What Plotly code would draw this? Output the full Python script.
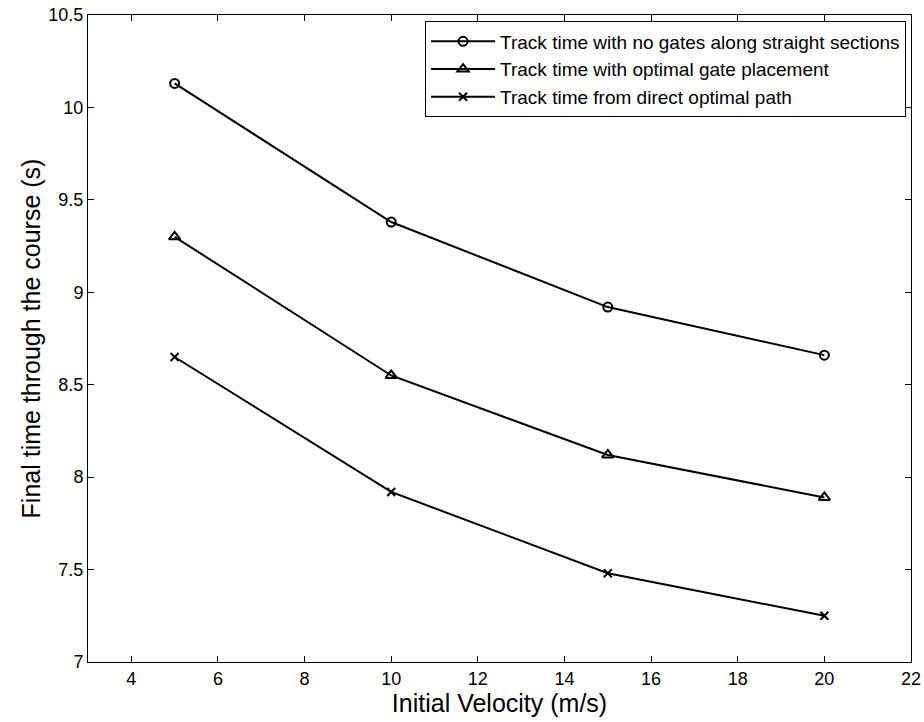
import plotly.graph_objects as go

velocity = [5, 10, 15, 20]
no_gates = [10.13, 9.38, 8.92, 8.66]
optimal_gates = [9.30, 8.55, 8.12, 7.89]
direct_path = [8.65, 7.92, 7.48, 7.25]

names = [
    "Track time with no gates along straight sections",
    "Track time with optimal gate placement",
    "Track time from direct optimal path",
]
symbols = ["circle-open", "triangle-up-open", "x-thin-open"]
sizes = [9, 10, 8]

fig = go.Figure()
for name, ys, sym, sz in zip(names, [no_gates, optimal_gates, direct_path], symbols, sizes):
    fig.add_trace(go.Scatter(
        x=velocity, y=ys, name=name, mode="lines+markers",
        line=dict(color="black", width=2),
        marker=dict(symbol=sym, size=sz, color="black", line=dict(color="black", width=2)),
    ))

fig.update_layout(
    width=924, height=722,
    margin=dict(l=88, r=13, t=15, b=60),
    paper_bgcolor="white", plot_bgcolor="white",
    font=dict(family="Arial, Liberation Sans, sans-serif", size=18, color="black"),
    legend=dict(
        x=0.994, y=0.99, xanchor="right", yanchor="top",
        bgcolor="white", bordercolor="black", borderwidth=1,
        font=dict(size=19), tracegroupgap=0, itemwidth=64,
    ),
    showlegend=True,
)
fig.update_xaxes(
    range=[3, 22], tickvals=[4, 6, 8, 10, 12, 14, 16, 18, 20, 22],
    ticks="inside", ticklen=6, tickcolor="black", ticklabeloverflow="allow",
    showline=True, linecolor="black", linewidth=1, mirror="ticks",
    showgrid=False, zeroline=False, automargin=False,
    title=dict(text="Initial Velocity (m/s)", font=dict(size=25), standoff=4),
)
fig.update_yaxes(
    range=[7, 10.5], tickvals=[7, 7.5, 8, 8.5, 9, 9.5, 10, 10.5],
    ticktext=["7", "7.5", "8", "8.5", "9", "9.5", "10", "10.5"],
    ticks="inside", ticklen=6, tickcolor="black", ticklabeloverflow="allow",
    showline=True, linecolor="black", linewidth=1, mirror="ticks",
    showgrid=False, zeroline=False, automargin=False,
    title=dict(text="Final time through the course (s)", font=dict(size=25), standoff=0),
)

# remove the default page margin so the 924x722 figure fills the window exactly
fig.write_html(
    "out.html",
    config={"displayModeBar": False},
    post_script="document.body.style.margin='0px';",
)
